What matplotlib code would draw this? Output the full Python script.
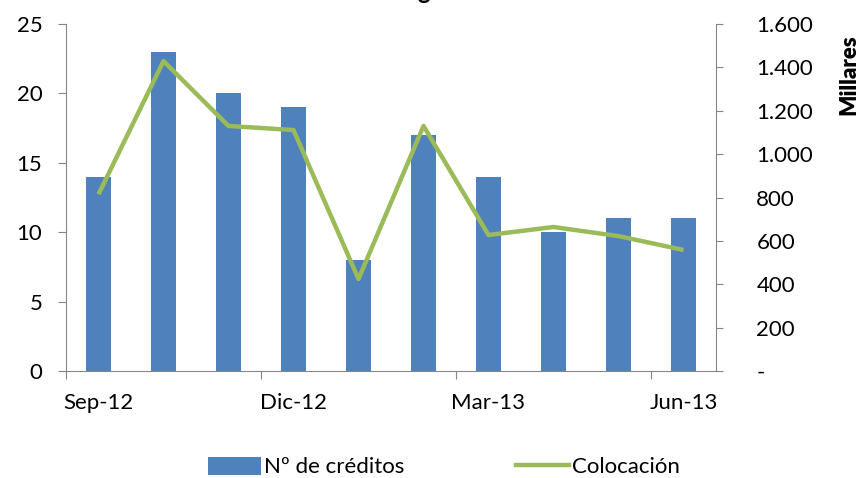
import matplotlib
matplotlib.use('Agg')
import matplotlib.pyplot as plt
import matplotlib.ticker as mticker
from matplotlib.patches import Patch
from matplotlib.lines import Line2D
import numpy as np

plt.rcParams['font.family'] = ['Lato', 'DejaVu Sans']

# data
months = ['Sep-12', 'Oct-12', 'Nov-12', 'Dic-12', 'Ene-13', 'Feb-13',
          'Mar-13', 'Abr-13', 'May-13', 'Jun-13']
creditos = [14, 23, 20, 19, 8, 17, 14, 10, 11, 11]
colocacion = [815, 1429, 1130, 1111, 424, 1130, 627, 664, 622, 558]
label_every = 3

bar_color = '#4F81BD'
line_color = '#9BBB59'
axis_color = '#868686'
fs = 16

fig = plt.figure(figsize=(8.62, 4.78), dpi=100)
ax = fig.add_axes([66 / 862, 1 - 371 / 478, 650 / 862, 347 / 478])
ax2 = ax.twinx()

x = np.arange(len(months))
ax.bar(x, creditos, width=0.39, color=bar_color, zorder=2)
ax2.plot(x, colocacion, color=line_color, linewidth=3.2, solid_capstyle='butt')

ax.set_xlim(-0.5, len(months) - 0.5)
ax.set_ylim(0, 25)
ax2.set_ylim(0, 1600)
ax.set_yticks(range(0, 26, 5))
ax2.set_yticks(range(0, 1601, 200))


def miles(v, pos):
    if v == 0:
        return '-'
    return '{:,.0f}'.format(v).replace(',', '.')


ax2.yaxis.set_major_formatter(mticker.FuncFormatter(miles))

# category axis: ticks between categories, labels at category centres
ax.set_xticks(np.arange(-0.5, len(months), label_every))
ax.set_xticks(x[::label_every], minor=True)
ax.set_xticklabels([])
ax.set_xticklabels(months[::label_every], minor=True)
ax.tick_params(axis='x', which='major', length=6, color=axis_color)
ax.tick_params(axis='x', which='minor', length=0, pad=16, labelsize=fs)
ax.tick_params(axis='y', length=6, color=axis_color, pad=11, labelsize=fs)
ax2.tick_params(axis='y', length=5, color=axis_color, pad=24, labelsize=fs)
for lab in ax2.get_yticklabels():
    lab.set_horizontalalignment('left')

for a in (ax, ax2):
    a.spines['top'].set_visible(False)
    a.spines['left'].set_color(axis_color)
    a.spines['right'].set_color(axis_color)
    a.spines['bottom'].set_color(axis_color)
ax.spines['right'].set_visible(False)
ax2.spines['left'].set_visible(False)
ax2.spines['bottom'].set_visible(False)

fig.text(849 / 862, 1 - 75 / 478, 'Millares', rotation=90, fontsize=fs,
         fontweight='heavy', ha='center', va='center')

# title sits mostly above the figure edge, as in the reference
fig.text(437 / 862, 1 + 1 / 478, 'Créditos garantizados', fontsize=17,
         fontweight='bold', ha='center', va='baseline')

handles = [Patch(facecolor=bar_color, edgecolor='none'),
           Line2D([0], [0], color=line_color, linewidth=3.2)]
fig.legend(handles, ['Nº de créditos', 'Colocación'], ncol=2, frameon=False,
           loc='center', bbox_to_anchor=(444 / 862, 1 - 467 / 478),
           fontsize=fs, handlelength=2.4, handleheight=0.9,
           handletextpad=0.15, columnspacing=5.0)

fig.savefig('out.png', dpi=100)
